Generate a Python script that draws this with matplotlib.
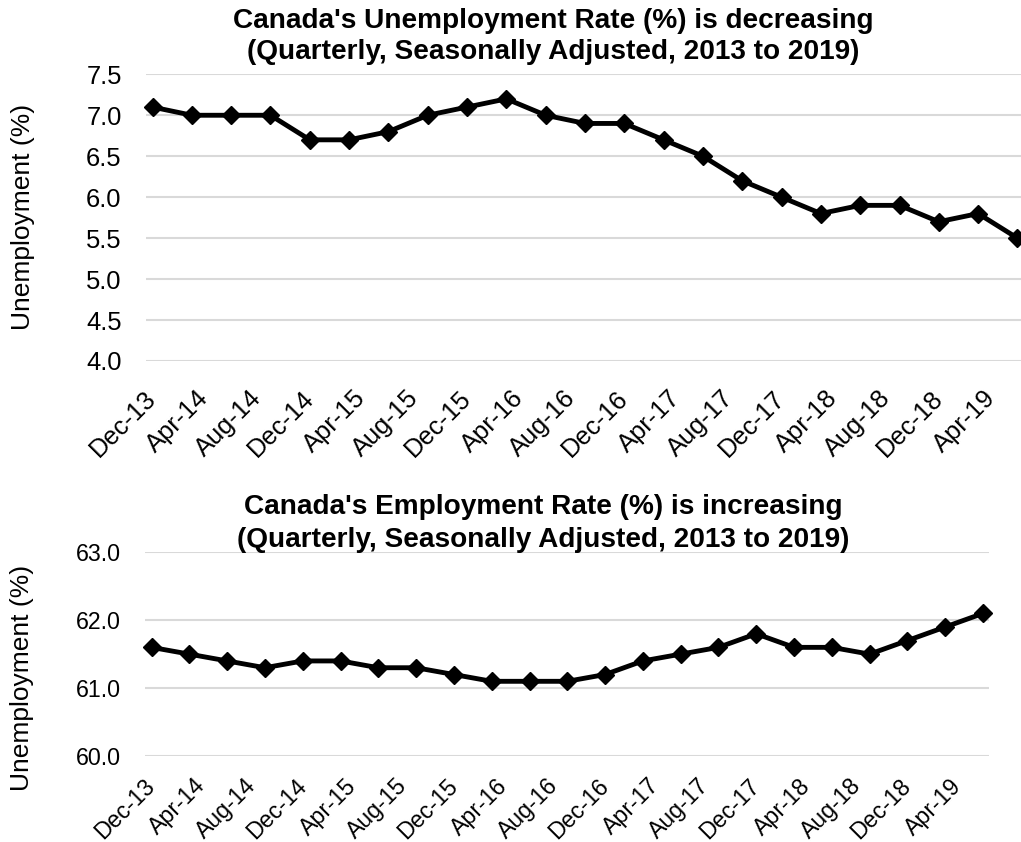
import matplotlib
matplotlib.use('Agg')
import matplotlib.pyplot as plt
import pandas as pd

plt.rcParams['font.family'] = ['Liberation Sans', 'DejaVu Sans']

# quarterly observation dates
dates = ['2013-12', '2014-03', '2014-06', '2014-09', '2014-12', '2015-03',
         '2015-06', '2015-09', '2015-12', '2016-03', '2016-06', '2016-09',
         '2016-12', '2017-03', '2017-06', '2017-09', '2017-12', '2018-03',
         '2018-06', '2018-09', '2018-12', '2019-03', '2019-06']

unemployment = [7.1, 7.0, 7.0, 7.0, 6.7, 6.7, 6.8, 7.0, 7.1, 7.2, 7.0, 6.9,
                6.9, 6.7, 6.5, 6.2, 6.0, 5.8, 5.9, 5.9, 5.7, 5.8, 5.5]
employment = [61.6, 61.5, 61.4, 61.3, 61.4, 61.4, 61.3, 61.3, 61.2, 61.1, 61.1, 61.1,
              61.2, 61.4, 61.5, 61.6, 61.8, 61.6, 61.6, 61.5, 61.7, 61.9, 62.1]

# x tick labels every 4 months (Excel date axis)
tick_labels = ['Dec-13', 'Apr-14', 'Aug-14', 'Dec-14', 'Apr-15', 'Aug-15',
               'Dec-15', 'Apr-16', 'Aug-16', 'Dec-16', 'Apr-17', 'Aug-17',
               'Dec-17', 'Apr-18', 'Aug-18', 'Dec-18', 'Apr-19']

top_title = ["Canada's Unemployment Rate (%) is decreasing",
             "(Quarterly, Seasonally Adjusted, 2013 to 2019)"]
bottom_title = ["Canada's Employment Rate (%) is increasing",
                "(Quarterly, Seasonally Adjusted, 2013 to 2019)"]

# month index from first date
dt = pd.to_datetime(dates)
start = dt[0]
months = [(d.year - start.year) * 12 + d.month - start.month for d in dt]
tick_pos = list(range(0, 4 * len(tick_labels), 4))

W, H = 1021, 842
fig = plt.figure(figsize=(W / 100, H / 100), dpi=100)


def px_box(left, top, right, bottom):
    return [left / W, 1 - bottom / H, (right - left) / W, (bottom - top) / H]


def style_axis(ax, values, yticks, fs, xpad):
    ax.plot(months, values, color='black', linewidth=3.5, marker='D',
            markersize=9, clip_on=False, zorder=3)
    ax.set_xlim(-0.5, 66.5)
    ax.set_ylim(yticks[0], yticks[-1])
    ax.set_yticks(yticks)
    ax.set_yticklabels(['{:.1f}'.format(v) for v in yticks], fontsize=fs)
    ax.set_xticks(tick_pos)
    ax.set_xticklabels(tick_labels, rotation=45, ha='right',
                       rotation_mode='anchor', va='center', fontsize=fs)
    ax.tick_params(axis='both', length=0)
    ax.tick_params(axis='y', pad=17.5)
    ax.tick_params(axis='x', pad=xpad)
    ax.grid(axis='y', color='#d9d9d9', linewidth=1.5)
    ax.set_axisbelow(True)
    for s in ax.spines.values():
        s.set_visible(False)


ax1 = fig.add_axes(px_box(146, 74.3, 1024, 361))
style_axis(ax1, unemployment, [4.0, 4.5, 5.0, 5.5, 6.0, 6.5, 7.0, 7.5], 18.4, 24)

ax2 = fig.add_axes(px_box(145.3, 552.3, 989.3, 756))
style_axis(ax2, employment, [60.0, 61.0, 62.0, 63.0], 16.7, 19)

# titles
fig.text(553 / W, 1 - 28.3 / H, top_title[0], ha='center', va='baseline',
         fontsize=20.2, fontweight='bold')
fig.text(553 / W, 1 - 59.3 / H, top_title[1], ha='center', va='baseline',
         fontsize=20.2, fontweight='bold')
fig.text(543 / W, 1 - 514 / H, bottom_title[0], ha='center', va='baseline',
         fontsize=20.2, fontweight='bold')
fig.text(543 / W, 1 - 547 / H, bottom_title[1], ha='center', va='baseline',
         fontsize=20.2, fontweight='bold')

# y labels
fig.text(23 / W, 1 - 217 / H, 'Unemployment (%)', rotation=90,
         ha='center', va='center', fontsize=19)
fig.text(22 / W, 1 - 678 / H, 'Unemployment (%)', rotation=90,
         ha='center', va='center', fontsize=19)

fig.savefig('out.png', dpi=100)
